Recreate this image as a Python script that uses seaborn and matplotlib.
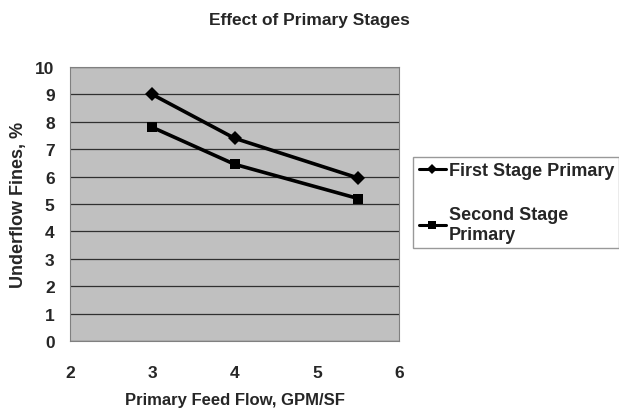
import pandas as pd
import matplotlib
matplotlib.use("Agg")
import matplotlib.pyplot as plt
import seaborn as sns

# Data
feed_flow = [3, 4, 5.5]
first_stage = [9.0, 7.4, 5.95]
second_stage = [7.8, 6.45, 5.2]
series_names = ["First Stage Primary", "Second Stage\nPrimary"]

x_ticks = [2, 3, 4, 5, 6]
y_ticks = list(range(0, 11))

df = pd.DataFrame({
    "Flow": feed_flow * 2,
    "Fines": first_stage + second_stage,
    "Series": [series_names[0]] * len(feed_flow) + [series_names[1]] * len(feed_flow),
})

sns.set_style("white")
plt.rcParams['font.family'] = ['Liberation Sans', 'DejaVu Sans']
plt.rcParams['font.weight'] = 'bold'

fig = plt.figure(figsize=(6.19, 4.10), dpi=100)
ax = fig.add_axes([0.113, 0.166, 0.532, 0.668])
ax.set_facecolor('#c0c0c0')

sns.lineplot(data=df, x="Flow", y="Fines", hue="Series", style="Series",
             markers={series_names[0]: 'D', series_names[1]: 's'}, dashes=False,
             palette={series_names[0]: 'black', series_names[1]: 'black'},
             linewidth=2.6, markersize=7, markeredgewidth=0, ax=ax)

ax.set_xlim(2, 6)
ax.set_ylim(0, 10)
ax.set_xticks(x_ticks)
ax.set_yticks(y_ticks)
ax.yaxis.grid(True, color='#303030', linewidth=0.9)
ax.xaxis.grid(False)
for side in ['top', 'right', 'left', 'bottom']:
    ax.spines[side].set_color('#808080')
ax.tick_params(axis='both', labelsize=12.5, length=5, color='#808080', direction='out', pad=6)
ax.tick_params(axis='x', pad=12)
ax.set_xlabel("Primary Feed Flow, GPM/SF", fontsize=12, fontweight='bold', labelpad=9)
ax.set_ylabel("Underflow Fines, %", fontsize=13, fontweight='bold', labelpad=6)

handles, labels = ax.get_legend_handles_labels()
leg = ax.legend(handles, labels, loc='upper left', bbox_to_anchor=(1.043, 0.672),
                frameon=True, fancybox=False, fontsize=13, handlelength=1.5,
                handletextpad=0.15, labelspacing=1.5, borderpad=0.3, borderaxespad=0)
leg.get_frame().set_edgecolor('#808080')
leg.get_frame().set_linewidth(1)
for h in leg.get_lines():
    h.set_markersize(5.5)
    h.set_linewidth(2.2)

fig.text(0.5, 1 - 21 / 410, "Effect of Primary Stages", ha='center', va='center',
         fontsize=12.5, fontweight='bold')

fig.savefig("out.png", dpi=100)
